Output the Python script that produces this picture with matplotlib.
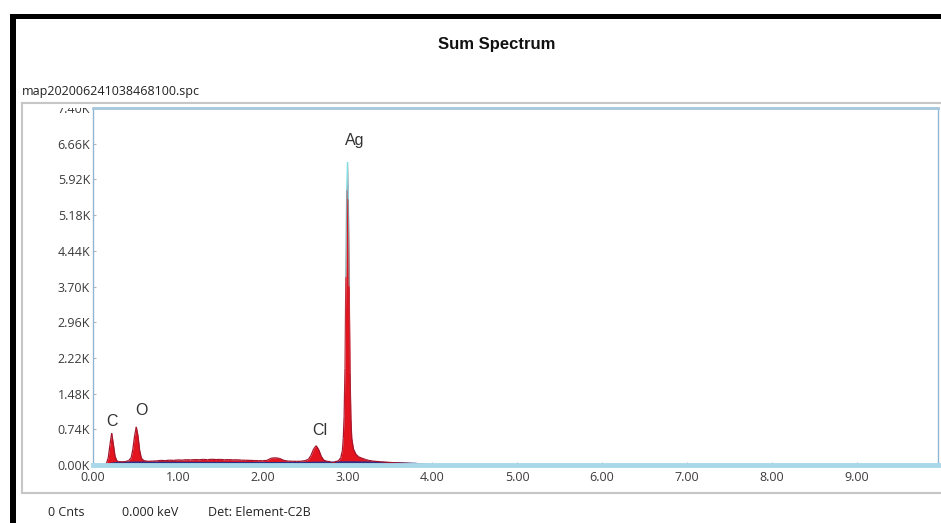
import matplotlib
matplotlib.use("Agg")
import matplotlib.pyplot as plt
import numpy as np
from matplotlib.patches import Rectangle
from matplotlib.lines import Line2D
from matplotlib.collections import LineCollection
from matplotlib.colors import LinearSegmentedColormap, Normalize

# --- DATA ---
energy_kev = [0.00, 0.14, 0.16, 0.18, 0.20, 0.22, 0.24, 0.26, 0.28, 0.30,
              0.34, 0.38, 0.42, 0.45, 0.47, 0.49, 0.51, 0.53, 0.55, 0.57,
              0.60, 0.65, 0.70, 0.75, 0.80, 0.85, 0.90, 0.95, 1.00, 1.05,
              1.10, 1.15, 1.20, 1.25, 1.30, 1.35, 1.40, 1.45, 1.50, 1.55,
              1.60, 1.65, 1.70, 1.75, 1.80, 1.85, 1.90, 1.95, 2.00, 2.05,
              2.10, 2.15, 2.20, 2.25, 2.30, 2.35, 2.40, 2.45, 2.50, 2.54,
              2.57, 2.60, 2.63, 2.66, 2.69, 2.72, 2.76, 2.80, 2.85, 2.89,
              2.92, 2.94, 2.95, 2.96, 2.97, 2.98, 2.99, 3.00, 3.01, 3.02,
              3.03, 3.04, 3.05, 3.07, 3.10, 3.13, 3.17, 3.21, 3.25, 3.30,
              3.40, 3.50, 3.60, 3.70, 3.80, 3.90, 4.00, 4.50, 9.96]
counts = [0, 0, 40, 150, 420, 660, 430, 180, 90, 70,
          65, 70, 90, 150, 330, 600, 790, 610, 300, 140,
          90, 75, 80, 85, 95, 90, 100, 95, 105, 100,
          110, 105, 112, 108, 115, 110, 118, 112, 115, 108,
          112, 105, 108, 100, 98, 95, 92, 90, 88, 95,
          140, 150, 135, 95, 80, 78, 75, 78, 90, 120,
          200, 330, 400, 320, 180, 100, 75, 70, 70, 80,
          150, 300, 550, 1000, 2000, 3900, 5700, 6280, 5500, 3700,
          1900, 950, 550, 330, 220, 170, 140, 115, 95, 80,
          65, 52, 42, 33, 25, 12, 5, 3, 0]

# fitted background (dark blue trace)
bg_kev = [0.15, 0.20, 0.30, 0.50, 1.00, 1.50, 2.00, 2.50, 3.00, 3.30, 3.60, 3.80, 3.90, 4.00]
bg_counts = [0, 30, 50, 55, 50, 48, 45, 48, 60, 55, 40, 30, 10, 0]

peak_labels = ["C", "O", "Cl", "Ag"]
label_kev = [0.22, 0.57, 2.67, 3.09]
label_counts = [910, 1140, 705, 6720]

x_ticks = [0, 1, 2, 3, 4, 5, 6, 7, 8, 9]
y_ticks = [0, 740, 1480, 2220, 2960, 3700, 4440, 5180, 5920, 6660, 7400]

W, H = 941, 523


def fx(px):
    return px / W


def fy(py):
    return 1 - py / H


def main():
    plt.rcParams['font.family'] = ['Open Sans', 'DejaVu Sans']
    fig = plt.figure(figsize=(W / 100, H / 100), dpi=100)
    fig.patch.set_facecolor('white')

    ax = fig.add_axes([fx(93), fy(465), fx(938) - fx(93), fy(108) - fy(465)])
    ax.set_xlim(0, 9.96)
    ax.set_ylim(0, 7400)

    e = np.array(energy_kev)
    c = np.array(counts)

    # red spectrum fill
    ax.fill_between(e, 0, c, color='#e4141e', lw=0, zorder=2)
    # blue background trace
    ax.fill_between(bg_kev, 0, bg_counts, color='#3a2f8c', alpha=0.55, lw=0, zorder=3)
    ax.plot(bg_kev, bg_counts, color='#2c2f86', lw=1.2, zorder=3)

    # outline with height-dependent colour (red -> grey -> cyan tip)
    cmap = LinearSegmentedColormap.from_list(
        'spec', [(0, '#a0102a'), (0.6, '#c0303c'), (0.85, '#8c8088'), (1.0, '#7fe0e8')])
    pts = np.column_stack([e, c])
    segs = np.stack([pts[:-1], pts[1:]], axis=1)
    lc = LineCollection(segs, cmap=cmap, norm=Normalize(0, 6280), lw=0.9, zorder=4)
    lc.set_array(np.maximum(c[:-1], c[1:]))
    ax.add_collection(lc)

    # light blue baseline
    ax.axhline(0, color='#a8d8ea', lw=3.5, zorder=5, clip_on=False)

    for name, xk, yk in zip(peak_labels, label_kev, label_counts):
        ax.text(xk, yk, name, ha='center', va='center', fontsize=11.5,
                color='#333333', family=['Liberation Sans', 'DejaVu Sans'])

    ax.set_xticks(x_ticks)
    ax.set_xticklabels([f"{v:.2f}" for v in x_ticks])
    ax.set_yticks(y_ticks)
    ax.set_yticklabels([f"{v / 1000:.2f}K" for v in y_ticks])
    ax.tick_params(axis='both', direction='in', length=2, color='#b0b8c0',
                   labelsize=9, labelcolor='#3c3c3c', pad=2)
    ax.tick_params(axis='x', pad=4)

    for side in ['left', 'right']:
        ax.spines[side].set_color('#8fb6d2')
        ax.spines[side].set_linewidth(1.0)
    ax.spines['top'].set_color('#a6c6dc')
    ax.spines['top'].set_linewidth(2.0)
    ax.spines['bottom'].set_visible(False)

    # hide the upper half of the 7.40K label, as in the software view
    fig.add_artist(Rectangle((fx(28), fy(108)), fx(92) - fx(28), fy(98) - fy(108),
                             transform=fig.transFigure, color='white', lw=0, zorder=10))

    # grey panel frame
    gray = '#c6c6c6'
    fig.add_artist(Line2D([fx(22), 1], [fy(103), fy(103)], color=gray, lw=1.5, zorder=11))
    fig.add_artist(Line2D([fx(22), fx(22)], [fy(103), fy(493)], color=gray, lw=1.5, zorder=11))
    fig.add_artist(Line2D([fx(22), 1], [fy(493), fy(493)], color=gray, lw=1.5, zorder=11))

    # black screenshot border
    fig.add_artist(Rectangle((fx(10), 0), fx(6), fy(14), transform=fig.transFigure,
                             color='black', lw=0, zorder=12))
    fig.add_artist(Rectangle((fx(10), fy(19)), 1 - fx(10), fy(14) - fy(19),
                             transform=fig.transFigure, color='black', lw=0, zorder=12))

    fig.text(fx(497), fy(44), "Sum Spectrum", ha='center', va='center', fontsize=12,
             fontweight='bold', color='#111111',
             family=['Liberation Sans', 'DejaVu Sans'])
    fig.text(fx(22), fy(92), "map202006241038468100.spc", ha='left', va='center',
             fontsize=9, color='#222222')

    fig.text(fx(48), fy(513), "0 Cnts", ha='left', va='center', fontsize=9, color='#222222')
    fig.text(fx(122), fy(513), "0.000 keV", ha='left', va='center', fontsize=9, color='#222222')
    fig.text(fx(208), fy(513), "Det: Element-C2B", ha='left', va='center', fontsize=9,
             color='#222222')

    fig.savefig("out.png", dpi=100)


if __name__ == "__main__":
    main()
